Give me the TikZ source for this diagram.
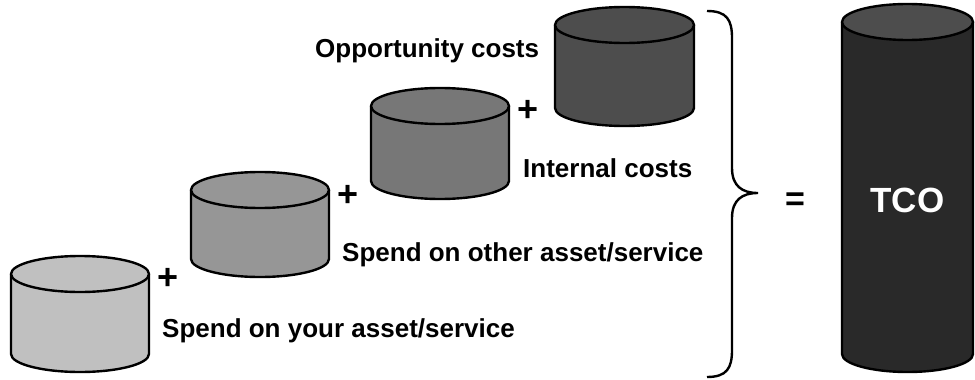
\documentclass[tikz,border=0pt]{standalone}
\usepackage{fontspec}
\setmainfont{Liberation Sans}
\usepackage{tikz}

\definecolor{drumA}{HTML}{C0C0C0}
\definecolor{drumB}{HTML}{969696}
\definecolor{drumC}{HTML}{777777}
\definecolor{drumD}{HTML}{4D4D4D}
\definecolor{drumT}{HTML}{292929}

\begin{document}
\begin{tikzpicture}[x=1pt,y=1pt]
\tikzstyle{every node}+=[inner sep=0pt]
\tikzstyle{drum}=[black, line width=2.4pt, line join=round]
\tikzstyle{label}=[font=\fontsize{26}{30}\selectfont\bfseries, anchor=base west]
\tikzstyle{sign}=[font=\fontsize{36}{36}\selectfont\bfseries, anchor=base]
\useasboundingbox (0,0) rectangle (975,-380);
% spend on your asset/service
\draw [drum, fill=drumA] (11,-274) -- (11,-354) arc (180:360:69 and 18) -- (149,-274);
\draw [drum, fill=drumA] (80,-274) ellipse (69 and 18);
% spend on other asset/service
\draw [drum, fill=drumB] (191,-190) -- (191,-259) arc (180:360:69 and 18) -- (329,-190);
\draw [drum, fill=drumB] (260,-190) ellipse (69 and 18);
% internal costs
\draw [drum, fill=drumC] (371,-106) -- (371,-181) arc (180:360:69 and 18) -- (509,-106);
\draw [drum, fill=drumC] (440,-106) ellipse (69 and 18);
% opportunity costs
\draw [drum, fill=drumD] (555,-25) -- (555,-108) arc (180:360:69.5 and 18) -- (694,-25);
\draw [drum, fill=drumD] (624.5,-25) ellipse (69.5 and 18);
% TCO
\draw [drum, fill=drumT] (842,-22) -- (842,-354) arc (180:360:65.5 and 18) -- (973,-22);
\draw [drum, fill=drumD] (907.5,-22) ellipse (65.5 and 18);
\node (tco) [font=\fontsize{35}{35}\selectfont\bfseries, text=white, anchor=base] at (907.5,-212) {TCO};
% labels
\node (your) [label] at (162,-337) {Spend on your asset/service};
\node (other) [label] at (342,-261) {Spend on other asset/service};
\node (internal) [label] at (523,-177) {Internal costs};
\node (opportunity) [label] at (315,-57) {Opportunity costs};
% signs
\node (plusA) [sign] at (168,-289) {+};
\node (plusB) [sign] at (348,-206) {+};
\node (plusC) [sign] at (528,-121) {+};
\node (equals) [sign, font=\fontsize{34}{34}\selectfont\bfseries] at (795,-210) {=};
% brace
\draw [black, line width=2.4pt] (707,-11) .. controls (727,-11) and (732,-20) .. (732,-38)
  -- (732,-168) .. controls (732,-186) and (742,-193) .. (758,-193)
  .. controls (742,-193) and (732,-200) .. (732,-218)
  -- (732,-350) .. controls (732,-368) and (727,-377) .. (707,-377);
\end{tikzpicture}
\end{document}
